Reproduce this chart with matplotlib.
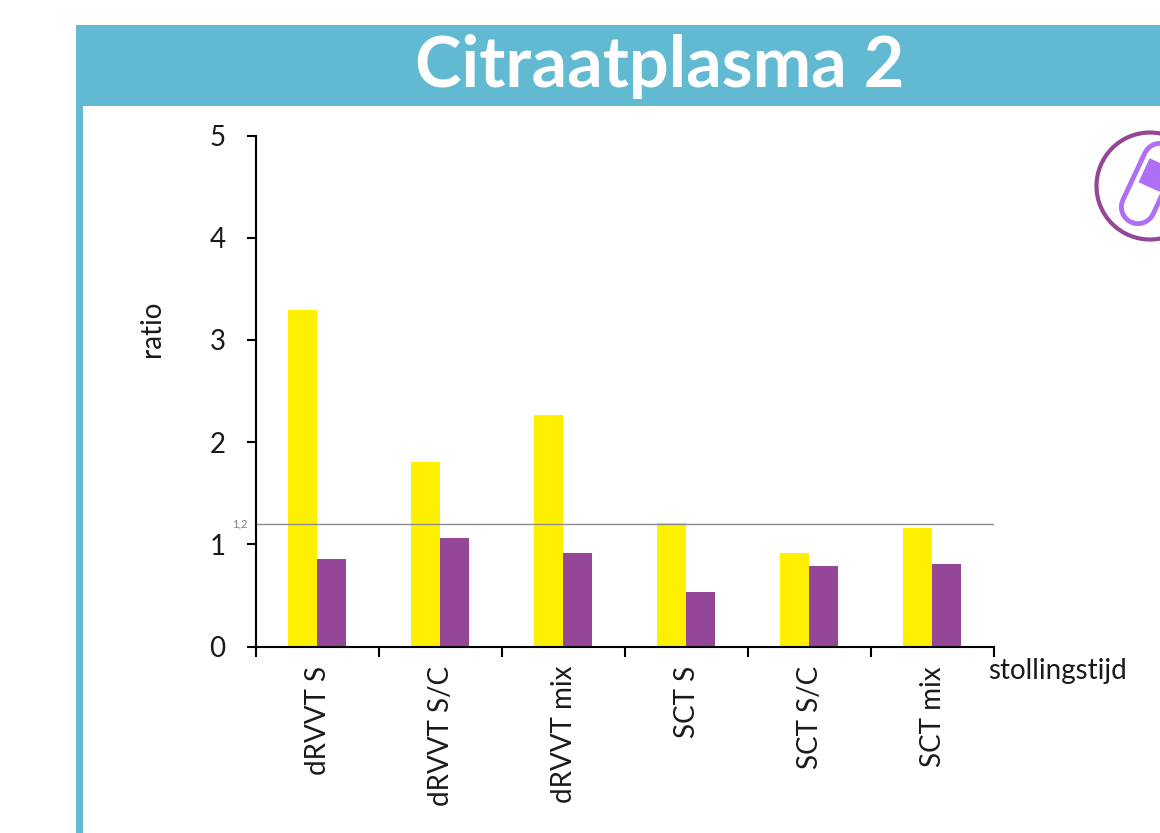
import matplotlib
matplotlib.use('Agg')
import matplotlib.pyplot as plt
from matplotlib.patches import Circle, Rectangle

W, H = 1160, 833

categories = ['dRVVT S', 'dRVVT S/C', 'dRVVT mix', 'SCT S', 'SCT S/C', 'SCT mix']
geel = [3.29, 1.81, 2.27, 1.21, 0.91, 1.16]
paars = [0.86, 1.06, 0.91, 0.53, 0.79, 0.81]
afkap = 1.2

plt.rcParams['font.family'] = ['Lato', 'DejaVu Sans']

fig = plt.figure(figsize=(W / 100, H / 100), dpi=100, facecolor='white')

# achtergrond in pixels
bg = fig.add_axes([0, 0, 1, 1])
bg.set_xlim(0, W)
bg.set_ylim(H, 0)
bg.axis('off')
bg.add_patch(Rectangle((76, 25), W - 76, 81, color='#61BAD1', lw=0))
bg.add_patch(Rectangle((76, 106), 7, H - 106, color='#61BAD1', lw=0))
bg.text(660, 66, 'Citraatplasma 2', color='white', fontsize=50.5, fontweight='bold',
        ha='center', va='center')

# pil icoon
bg.add_patch(Circle((1150, 186), 53.5, fc='white', ec='#944796', lw=3))
bg.plot([1138, 1160], [207, 160], color='#AE6FF6', lw=27.5, solid_capstyle='round')
bg.plot([1138, 1160], [207, 160], color='white', lw=20.5, solid_capstyle='round')
bg.plot([1149, 1160], [187, 163], color='#AE6FF6', lw=16.5, solid_capstyle='butt')
bg.add_patch(Circle((1160, 163), 11.5, color='#AE6FF6', lw=0))

# grafiek
ax = fig.add_axes([255.5 / W, 1 - 646.5 / H, (993.5 - 255.5) / W, (646 - 135) / H])
ax.patch.set_alpha(0)
x = list(range(len(categories)))
breedte = 29 / 123
ax.bar([i - breedte / 2 for i in x], geel, breedte, color='#FFF000')
ax.bar([i + breedte / 2 for i in x], paars, breedte, color='#944796')
ax.axhline(afkap, color='#8C8C8C', lw=1)

ax.set_xlim(-0.5, 5.5)
ax.set_ylim(0, 5)
ax.spines['top'].set_visible(False)
ax.spines['right'].set_visible(False)
ax.spines['left'].set_linewidth(1.5)
ax.spines['bottom'].set_linewidth(1.5)

ax.set_yticks(range(6))
ax.tick_params(axis='y', length=6.5, width=1.5, labelsize=20, pad=15, labelcolor='#1a1a1a')
ax.set_xticks([i - 0.5 for i in range(7)])
ax.set_xticklabels([])
ax.tick_params(axis='x', length=7, width=1.5)
for i, naam in zip(x, categories):
    ax.annotate(naam, (i, 0), xycoords=('data', 'axes fraction'), xytext=(1, -14),
                textcoords='offset points', rotation=90, ha='center', va='top',
                fontsize=20, color='#1a1a1a')

ax.set_ylabel('ratio', fontsize=20, color='#1a1a1a')
ax.yaxis.set_label_coords(-0.122, 0.622)
ax.annotate('1,2', (0, afkap), xycoords=('axes fraction', 'data'), xytext=(-6, 0),
            textcoords='offset points', ha='right', va='center', fontsize=8, color='#7f7f7f')
ax.annotate('stollingstijd', (1, 0), xycoords='axes fraction', xytext=(-4, -27),
            textcoords='offset points', ha='left', va='bottom', fontsize=20,
            color='#1a1a1a', annotation_clip=False)

fig.savefig('out.png', dpi=100)
